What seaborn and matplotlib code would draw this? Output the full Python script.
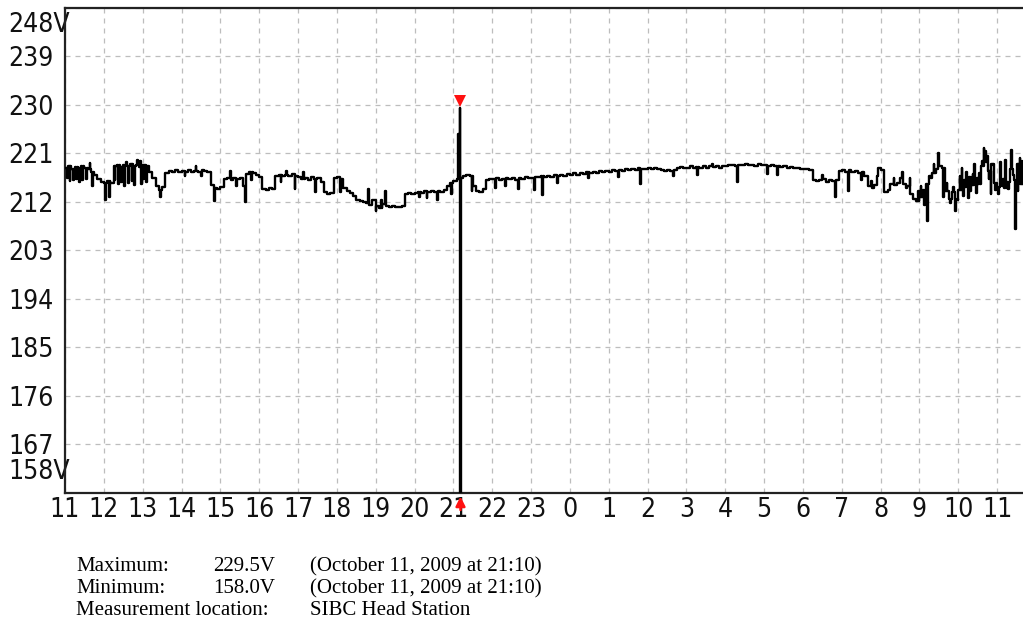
import matplotlib
matplotlib.use("Agg")
import matplotlib.pyplot as plt
from matplotlib.transforms import ScaledTranslation
from matplotlib import font_manager
import seaborn as sns
import pandas as pd

# ---------------- data ----------------
# 5-minute samples from 11:00 (day 1) to 11:40 (day 2), one row per hour
base_volts = [
    # 11
    218.4, 218.6, 218.2, 218.5, 218.3, 218.6, 218.4, 218.2, 217.6, 217.0, 216.2, 215.8,
    # 12
    215.6, 215.9, 215.5, 218.7, 218.9, 218.5, 218.8, 218.6, 219.0, 218.7, 218.9, 218.5,
    # 13
    218.8, 218.6, 217.6, 216.5, 215.0, 214.2, 214.8, 217.4, 217.8, 217.6, 217.9, 217.5,
    # 14
    217.7, 217.6, 217.9, 217.5, 217.8, 217.6, 217.9, 217.7, 217.5, 215.2, 214.6, 214.5,
    # 15
    214.8, 216.2, 216.4, 216.0, 216.5, 216.2, 216.4, 215.0, 217.2, 217.6, 217.3, 217.0,
    # 16
    216.6, 214.5, 214.3, 214.6, 214.4, 216.9, 217.1, 216.8, 217.0, 216.9, 217.2, 216.8,
    # 17
    216.6, 216.2, 216.4, 216.0, 216.6, 216.3, 216.5, 215.8, 213.8, 213.5, 213.7, 216.4,
    # 18
    216.7, 216.2, 214.6, 214.0, 213.6, 213.2, 212.4, 212.2, 212.0, 211.8, 211.4, 212.4,
    # 19
    211.2, 210.9, 211.6, 211.3, 211.0, 211.2, 211.1, 211.0, 211.3, 213.4, 213.6, 213.4,
    # 20
    213.7, 213.9, 213.7, 214.0, 213.8, 214.0, 213.9, 214.1, 213.9, 214.3, 215.0, 215.6,
    # 21
    215.9, 216.2, 216.5, 216.9, 217.0, 216.8, 215.0, 214.0, 213.9, 214.5, 216.1, 216.3,
    # 22
    216.2, 216.4, 216.0, 216.3, 216.5, 216.2, 216.4, 216.1, 216.5, 216.3, 216.6, 216.4,
    # 23
    216.5, 216.7, 216.6, 216.8, 216.6, 216.9, 216.7, 217.0, 216.8, 217.1, 216.9, 217.2,
    # 0
    217.0, 217.3, 217.1, 217.4, 217.2, 217.5, 217.3, 217.6, 217.4, 217.7, 217.5, 217.8,
    # 1
    217.6, 217.9, 217.7, 218.0, 217.8, 218.1, 217.9, 218.2, 218.0, 218.3, 218.1, 218.2,
    # 2
    218.3, 218.1, 218.4, 218.2, 218.0, 217.8, 217.9, 217.7, 218.0, 218.3, 218.5, 218.3,
    # 3
    218.4, 218.6, 218.4, 218.5, 218.3, 218.6, 218.4, 218.7, 218.5, 218.6, 218.4, 218.7,
    # 4
    218.6, 218.8, 218.9, 218.7, 218.9, 218.8, 219.0, 218.8, 218.9, 218.7, 219.0, 218.8,
    # 5
    218.9, 218.7, 218.8, 218.6, 218.7, 218.5, 218.6, 218.4, 218.5, 218.3, 218.4, 218.2,
    # 6
    218.1, 218.2, 218.0, 216.1, 215.9, 216.0, 216.2, 215.8, 216.0, 215.9, 216.1, 217.8,
    # 7
    218.0, 217.6, 217.9, 217.5, 217.8, 217.4, 217.6, 216.9, 215.0, 214.6, 215.2, 218.4,
    # 8
    218.0, 213.9, 214.2, 215.4, 215.2, 215.6, 216.5, 215.3, 215.0, 213.5, 212.6, 212.2,
    # 9
    213.0, 214.2, 215.4, 216.8, 217.4, 218.2, 218.6, 218.4, 214.0, 212.6, 213.8, 212.4,
    # 10
    214.2, 216.0, 214.8, 216.6, 215.2, 216.4, 215.4, 218.6, 219.4, 217.8, 219.0, 215.6,
    # 11 (day 2)
    214.8, 216.2, 214.6, 215.8, 218.2, 216.0, 219.0, 215.4, 217.8,
]
base_step_min = 5

# short (1-minute) excursions; clock hours continue past 24 on day 2
spike_clock = [
    "11:03", "11:07", "11:13", "11:17", "11:22", "11:27", "11:33", "11:38", "11:42",
    "12:02", "12:08", "12:17", "12:22", "12:27", "12:31", "12:35", "12:38", "12:43",
    "12:47", "12:52", "12:56", "12:58", "13:01", "13:05", "13:27", "14:05", "14:22",
    "14:30", "14:50", "15:15", "15:24", "15:38", "15:48", "16:33", "16:42", "16:55",
    "17:08", "17:26", "18:05", "18:48", "19:00", "19:08", "19:15", "20:07", "20:19",
    "20:35", "20:57", "21:07", "21:08", "21:10", "21:11", "21:28", "22:05", "22:20",
    "22:40", "23:05", "23:17", "23:40", "24:28", "25:15", "25:49", "26:40", "27:17",
    "27:40", "28:18", "29:05", "29:20", "30:30", "30:50", "31:10", "31:30", "31:45",
    "31:55", "32:10", "32:20", "32:33", "32:40", "32:45", "32:52", "32:58", "33:02",
    "33:07", "33:12", "33:18", "33:22", "33:29", "33:37", "33:42", "33:47", "33:52",
    "33:55", "33:58", "34:02", "34:05", "34:08", "34:12", "34:15", "34:18", "34:22",
    "34:25", "34:28", "34:32", "34:37", "34:39", "34:42", "34:45", "34:47", "34:50",
    "34:53", "34:57", "35:02", "35:05", "35:08", "35:12", "35:17", "35:22", "35:25",
    "35:28", "35:32", "35:35", "35:38",
]
spike_volts = [
    216.5, 215.9, 216.0, 216.3, 215.8, 216.1, 216.2, 219.2, 215.0,
    212.3, 213.0, 216.0, 215.3, 215.8, 215.0, 219.4, 215.6, 215.9,
    215.2, 219.8, 219.6, 215.4, 216.2, 215.8, 212.9, 216.8, 218.6,
    216.9, 212.2, 217.8, 215.0, 212.0, 216.0, 215.8, 217.8, 214.4,
    217.6, 213.9, 213.9, 214.4, 210.3, 212.4, 214.0, 212.9, 212.8,
    212.4, 213.5, 224.7, 219.5, 229.5, 158.0, 214.1, 214.6, 214.9,
    214.4, 214.3, 213.3, 215.6, 216.4, 216.7, 215.4, 216.8, 217.0,
    219.1, 215.8, 217.2, 217.0, 217.0, 212.9, 214.0, 216.0, 215.9,
    216.8, 213.8, 216.5, 217.6, 214.6, 216.4, 212.6, 214.0, 214.9,
    211.5, 208.4, 216.5, 219.0, 221.0, 213.0, 215.6, 211.8, 214.8,
    210.3, 212.5, 216.8, 218.4, 213.2, 217.5, 212.8, 214.0, 217.2,
    219.0, 213.6, 217.4, 219.6, 222.0, 221.4, 220.6, 216.2, 213.5,
    218.8, 214.2, 213.5, 219.4, 215.0, 219.8, 214.5, 221.6, 217.0,
    206.9, 214.0, 220.2, 219.6,
]

y_ticks = [158, 167, 176, 185, 194, 203, 212, 221, 230, 239, 248]
y_tick_labels = ["158V", "167", "176", "185", "194", "203", "212", "221", "230", "239", "248V"]
x_ticks = list(range(11, 36))
x_tick_labels = [str(h % 24) for h in x_ticks]
start_hour = 11
end_clock = "35:40"

info_labels = ["Maximum:", "Minimum:", "Measurement location:"]
info_when = ["(October 11, 2009 at 21:10)", "(October 11, 2009 at 21:10)", "SIBC Head Station"]

# ---------------- build series ----------------
def clock_to_min(s):
    h, m = s.split(":")
    return (int(h) - start_hour) * 60 + int(m)

base = {i * base_step_min: v for i, v in enumerate(base_volts)}
points = dict(base)
spike_mins = [clock_to_min(s) for s in spike_clock]
for m, v in zip(spike_mins, spike_volts):
    points[m] = v
for m in spike_mins:
    if (m + 1) not in points:
        points[m + 1] = base[(m // base_step_min) * base_step_min]

mins = sorted(points)
df = pd.DataFrame({"hour": [start_hour + m / 60 for m in mins],
                   "volt": [points[m] for m in mins]})

# ---------------- figure ----------------
sns.set_theme(style="white")
plt.rcParams["font.family"] = ["DejaVu Sans"]

tick_font = font_manager.FontProperties(family="DejaVu Sans", stretch="condensed", size=19)

W, H = 1023, 642
fig = plt.figure(figsize=(W / 100, H / 100), dpi=100)
fig.patch.set_facecolor("white")
ax = fig.add_axes([65 / W, 149 / H, (W - 65) / W, 485 / H])
ax.set_facecolor("white")

sns.lineplot(data=df, x="hour", y="volt", ax=ax, color="black", linewidth=1.7,
             drawstyle="steps-post", estimator=None, sort=True, zorder=3)

ax.set_xlim(start_hour, start_hour + clock_to_min(end_clock) / 60)
ax.set_ylim(y_ticks[0], y_ticks[-1])
ax.set_xticks(x_ticks)
ax.set_xticklabels(x_tick_labels, fontproperties=tick_font)
ax.set_yticks(y_ticks)
ax.set_yticklabels(y_tick_labels, fontproperties=tick_font)
ax.set_xlabel("")
ax.set_ylabel("")

ax.grid(True, color="#bdbdbd", linestyle=(0, (4, 4)), linewidth=0.9, zorder=0)
for side in ["left", "top", "bottom"]:
    ax.spines[side].set_visible(True)
    ax.spines[side].set_color("#222222")
    ax.spines[side].set_linewidth(1.6)
ax.spines["right"].set_visible(False)

ax.tick_params(axis="x", length=0, pad=3, colors="#111111")
ax.tick_params(axis="y", length=0, pad=41, colors="#111111")
for lbl in ax.get_yticklabels():
    lbl.set_horizontalalignment("left")
yt = ax.yaxis.get_major_ticks()
yt[0].label1.set_verticalalignment("bottom")
yt[0].label1.set_transform(yt[0].label1.get_transform()
                           + ScaledTranslation(0, 8 / 100, fig.dpi_scale_trans))
yt[-1].label1.set_verticalalignment("top")
yt[-1].label1.set_transform(yt[-1].label1.get_transform()
                            + ScaledTranslation(0, -4 / 100, fig.dpi_scale_trans))

# max / min markers
imax = df["volt"].idxmax()
imin = df["volt"].idxmin()
t_max = df.loc[imax, "hour"] + 0.5 / 60
t_min = df.loc[imin, "hour"]
ax.plot([t_max], [df.loc[imax, "volt"]], marker="v", color="#ff1010", markersize=9,
        markeredgewidth=0, linestyle="none", zorder=5, clip_on=False,
        transform=ax.transData + ScaledTranslation(0, 7 / 100, fig.dpi_scale_trans))
ax.annotate("", xy=(t_min, 0), xycoords=("data", "axes fraction"),
            xytext=(0, -17), textcoords="offset pixels",
            arrowprops=dict(arrowstyle="-|>", color="#ff1010", lw=1.8,
                            mutation_scale=14, shrinkA=0, shrinkB=2.5),
            annotation_clip=False, zorder=6)

# ---------------- info text ----------------
vmax = df["volt"].max()
vmin = df["volt"].min()
values = [f"{vmax:.1f}V", f"{vmin:.1f}V", ""]
serif = ["Liberation Serif", "DejaVu Serif"]
baselines = [571, 593, 615]
for lab, val, when, yb in zip(info_labels, values, info_when, baselines):
    fy = 1 - yb / H
    fig.text(76 / W, fy, lab, family=serif, fontsize=15, va="baseline", color="#000000")
    if val:
        fig.text(213 / W, fy, val, family=serif, fontsize=15, va="baseline", color="#000000")
    fig.text(310 / W, fy, when, family=serif, fontsize=15, va="baseline", color="#000000")

fig.savefig("out.png", dpi=100, facecolor="white")
